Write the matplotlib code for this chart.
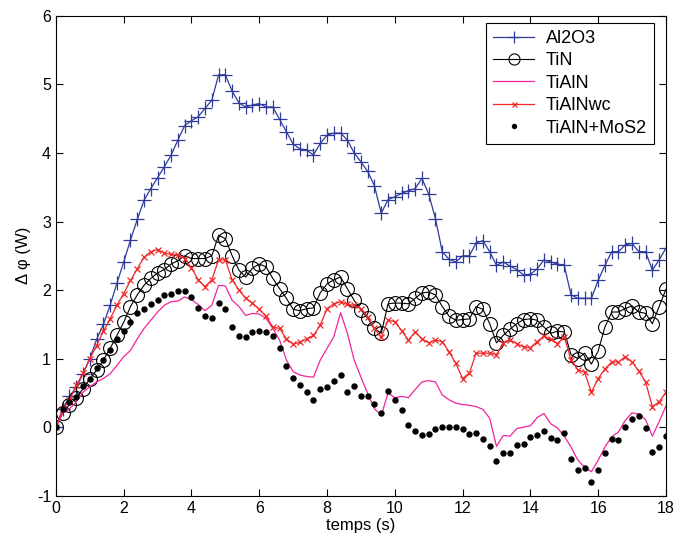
import numpy as np
import matplotlib
matplotlib.use("Agg")
import matplotlib.pyplot as plt

plt.rcParams['font.family'] = ['Liberation Sans', 'DejaVu Sans']
plt.rcParams['axes.unicode_minus'] = False

# time base: one sample every 0.2 s
t = np.round(np.arange(0, 18.01, 0.2), 1)

al2o3 = [0, 0.27, 0.45, 0.58, 0.78, 1.0, 1.28, 1.5, 1.78, 2.1,
         2.41, 2.73, 3.03, 3.31, 3.48, 3.64, 3.8, 3.97, 4.19, 4.4,
         4.47, 4.53, 4.65, 4.77, 5.14, 5.14, 4.9, 4.73, 4.67, 4.7,
         4.72, 4.67, 4.67, 4.49, 4.31, 4.13, 4.06, 4.04, 3.97, 4.14,
         4.26, 4.29, 4.29, 4.19, 4.0, 3.87, 3.73, 3.52, 3.12, 3.32,
         3.36, 3.41, 3.45, 3.48, 3.63, 3.4, 3.04, 2.56, 2.45, 2.41,
         2.5, 2.5, 2.69, 2.72, 2.56, 2.36, 2.41, 2.35, 2.3, 2.22,
         2.23, 2.31, 2.44, 2.41, 2.38, 2.36, 1.93, 1.88, 1.88, 1.88,
         2.14, 2.36, 2.56, 2.56, 2.66, 2.68, 2.56, 2.56, 2.29, 2.44,
         2.61]

tin = [0, 0.21, 0.33, 0.43, 0.56, 0.71, 0.83, 0.98, 1.15, 1.34,
       1.53, 1.76, 1.93, 2.07, 2.17, 2.25, 2.3, 2.38, 2.43, 2.5,
       2.46, 2.46, 2.46, 2.5, 2.8, 2.75, 2.5, 2.29, 2.19, 2.32,
       2.38, 2.34, 2.17, 2.02, 1.88, 1.72, 1.7, 1.73, 1.74, 1.96,
       2.09, 2.15, 2.19, 2.02, 1.85, 1.71, 1.59, 1.44, 1.37, 1.8,
       1.81, 1.81, 1.8, 1.88, 1.96, 1.97, 1.93, 1.76, 1.62, 1.56,
       1.57, 1.58, 1.76, 1.72, 1.51, 1.23, 1.34, 1.43, 1.51, 1.57,
       1.58, 1.56, 1.46, 1.37, 1.4, 1.39, 1.06, 1.0, 1.08, 0.92,
       1.11, 1.46, 1.68, 1.68, 1.73, 1.77, 1.68, 1.66, 1.51, 1.76,
       2.01]

tialn = [0, 0.21, 0.27, 0.37, 0.51, 0.59, 0.66, 0.71, 0.78, 0.9,
         1.03, 1.12, 1.29, 1.44, 1.56, 1.68, 1.78, 1.83, 1.84, 1.9,
         1.86, 1.79, 1.7, 1.78, 2.07, 2.06, 1.85, 1.76, 1.63, 1.66,
         1.65, 1.59, 1.44, 1.27, 0.98, 0.81, 0.76, 0.74, 0.73, 0.98,
         1.15, 1.32, 1.67, 1.37, 0.98, 0.73, 0.49, 0.27, 0.17, 0.5,
         0.43, 0.45, 0.43, 0.55, 0.66, 0.68, 0.66, 0.47, 0.4, 0.35,
         0.33, 0.32, 0.3, 0.26, 0.13, -0.28, -0.12, -0.13, -0.02, 0.0,
         0.02, 0.14, 0.2, 0.05, -0.01, -0.13, -0.29, -0.48, -0.58, -0.65,
         -0.48, -0.29, -0.14, -0.07, 0.1, 0.21, 0.19, 0.11, -0.13, 0.08,
         0.31]

tialnwc = [0, 0.26, 0.39, 0.61, 0.79, 1.0, 1.19, 1.4, 1.58, 1.78,
           1.95, 2.14, 2.31, 2.48, 2.56, 2.59, 2.54, 2.52, 2.51, 2.46,
           2.32, 2.15, 2.05, 2.15, 2.44, 2.44, 2.15, 2.0, 1.88, 1.81,
           1.72, 1.62, 1.46, 1.44, 1.29, 1.21, 1.24, 1.29, 1.34, 1.49,
           1.73, 1.8, 1.83, 1.79, 1.78, 1.73, 1.61, 1.44, 1.31, 1.56,
           1.54, 1.41, 1.27, 1.39, 1.29, 1.23, 1.27, 1.25, 1.1, 0.93,
           0.71, 0.79, 1.08, 1.08, 1.08, 1.06, 1.23, 1.27, 1.22, 1.17,
           1.16, 1.25, 1.33, 1.28, 1.22, 1.32, 0.98, 0.84, 0.8, 0.51,
           0.71, 0.85, 0.95, 0.95, 1.03, 0.95, 0.82, 0.66, 0.3, 0.37,
           0.51]

tialn_mos2 = [0, 0.26, 0.37, 0.44, 0.6, 0.71, 0.87, 0.98, 1.13, 1.29,
              1.41, 1.54, 1.67, 1.72, 1.8, 1.86, 1.93, 1.95, 1.99, 1.99,
              1.9, 1.74, 1.62, 1.6, 1.81, 1.72, 1.46, 1.33, 1.32, 1.39,
              1.41, 1.39, 1.33, 1.15, 0.9, 0.72, 0.62, 0.51, 0.39, 0.56,
              0.58, 0.68, 0.76, 0.51, 0.6, 0.45, 0.45, 0.34, 0.2, 0.53,
              0.39, 0.25, 0.03, -0.05, -0.12, -0.1, -0.02, 0.0, 0.01, 0.0,
              -0.02, -0.1, -0.08, -0.17, -0.28, -0.49, -0.38, -0.38, -0.26, -0.24,
              -0.15, -0.12, -0.05, -0.16, -0.19, -0.09, -0.47, -0.62, -0.59, -0.8,
              -0.62, -0.38, -0.17, -0.19, 0.0, 0.12, 0.16, -0.01, -0.36, -0.29,
              -0.13]

BLUE = '#2E3B9C'
PINK = '#F2249C'
RED = '#F02828'

fig = plt.figure(figsize=(6.74, 5.46), dpi=100)
ax = fig.add_axes([0.083, 0.092, 0.905, 0.879])

ax.plot(t, al2o3, color=BLUE, lw=0.9, marker='+', ms=10, mew=0.9, label='Al2O3')
ax.plot(t, tin, color='black', lw=0.8, marker='o', ms=10, mew=0.8,
        mfc='none', label='TiN')
ax.plot(t, tialn, color=PINK, lw=0.9, label='TiAlN')
ax.plot(t, tialnwc, color=RED, lw=0.9, marker='x', ms=4.5, mew=0.9, label='TiAlNwc')
ax.plot(t, tialn_mos2, ls='none', color='black', marker='o', ms=3.6,
        label='TiAlN+MoS2')

ax.set_xlim(0, 18)
ax.set_ylim(-1, 6)
ax.set_xticks(np.arange(0, 19, 2))
ax.set_yticks(np.arange(-1, 7, 1))
ax.tick_params(direction='in', top=True, right=True, labelsize=11.5, length=5)
for s in ax.spines.values():
    s.set_linewidth(0.8)

ax.set_xlabel('temps (s)', fontsize=12, labelpad=2)
ax.set_ylabel('Δ φ (W)', fontsize=12, labelpad=4)

leg = ax.legend(loc='upper right', bbox_to_anchor=(0.99, 0.997), fontsize=13,
                frameon=True, fancybox=False, framealpha=1, edgecolor='black',
                handlelength=2.3, handletextpad=0.65, borderpad=0.4,
                labelspacing=0.3, markerscale=0.8, borderaxespad=0.3)
leg.get_frame().set_linewidth(0.8)

fig.savefig('out.png', dpi=100)
